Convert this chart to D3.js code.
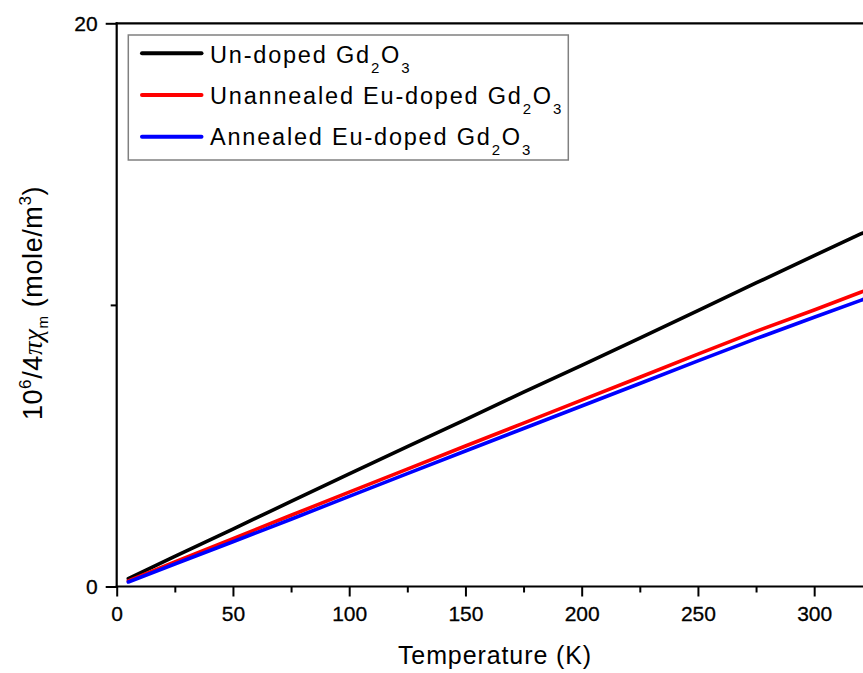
<!DOCTYPE html>
<html>
<head>
<meta charset="utf-8">
<script src="https://cdn.jsdelivr.net/npm/d3@7"></script>
<style>
  html, body { margin: 0; padding: 0; background: #fff; }
  svg { display: block; font-family: "Liberation Sans", Arial, sans-serif; }
</style>
</head>
<body>
<div id="chart"></div>
<script>
// ---- data ----
const temps      = [5, 25, 50, 75, 100, 125, 150, 175, 200, 225, 250, 275, 300, 320, 325];
const undoped    = [0.28, 1.07, 2.04, 3.02, 4.00, 4.97, 5.93, 6.90, 7.85, 8.82, 9.80, 10.78, 11.75, 12.52, 12.70];
const unannealed = [0.20, 0.87, 1.70, 2.53, 3.35, 4.17, 4.99, 5.80, 6.62, 7.43, 8.25, 9.06, 9.82, 10.45, 10.61];
const annealed   = [0.16, 0.80, 1.59, 2.39, 3.20, 4.01, 4.81, 5.61, 6.41, 7.21, 8.01, 8.80, 9.56, 10.16, 10.32];

const seriesNames = ["Un-doped Gd", "Unannealed Eu-doped Gd", "Annealed Eu-doped Gd"];
const seriesColors = ["#000000", "#ff0000", "#0000ff"];
const seriesValues = [undoped, unannealed, annealed];

const xMajorTicks = [0, 50, 100, 150, 200, 250, 300];
const xMinorTicks = [25, 75, 125, 175, 225, 275];
const yMajorTicks = [0, 20];
const yMinorTicks = [10];

// ---- layout ----
const W = 863, H = 673;
const pL = 116.7, pR = 863, pT = 23.3, pB = 586.5;

const svg = d3.select("#chart").append("svg")
  .attr("width", W).attr("height", H);

const x = d3.scaleLinear().domain([0, 321]).range([pL, pR]);
const y = d3.scaleLinear().domain([0, 20]).range([pB, pT]);

svg.append("defs").append("clipPath").attr("id", "plotclip")
  .append("rect").attr("x", pL).attr("y", pT).attr("width", pR - pL).attr("height", pB - pT);

// ---- lines ----
const line = d3.line().x((d, i) => x(temps[i])).y(d => y(d));
const lg = svg.append("g").attr("clip-path", "url(#plotclip)");
seriesValues.forEach((vals, k) => {
  lg.append("path")
    .datum(vals)
    .attr("d", line)
    .attr("fill", "none")
    .attr("stroke", seriesColors[k])
    .attr("stroke-width", 3.6)
    .attr("stroke-linejoin", "round")
    .attr("stroke-linecap", "round");
});

// ---- axes ----
const axisFont = 21;
const gxMinor = svg.append("g").attr("transform", `translate(0,${pB})`)
  .call(d3.axisBottom(x).tickValues(xMinorTicks).tickSize(6).tickFormat(""));
const gx = svg.append("g").attr("transform", `translate(0,${pB})`)
  .call(d3.axisBottom(x).tickValues(xMajorTicks).tickSize(10).tickPadding(10).tickFormat(d3.format("d")));
const gyMinor = svg.append("g").attr("transform", `translate(${pL},0)`)
  .call(d3.axisLeft(y).tickValues(yMinorTicks).tickSize(6).tickFormat(""));
const gy = svg.append("g").attr("transform", `translate(${pL},0)`)
  .call(d3.axisLeft(y).tickValues(yMajorTicks).tickSize(11).tickPadding(8).tickFormat(d3.format("d")));

[gxMinor, gx, gyMinor, gy].forEach(g => {
  g.select(".domain").remove();
  g.selectAll(".tick line").attr("stroke", "#000").attr("stroke-width", 2);
  g.selectAll(".tick text").attr("fill", "#000").style("font-size", axisFont + "px")
    .style("font-family", "'Liberation Sans', Arial, sans-serif")
    .attr("stroke", "#000").attr("stroke-width", 0.3);
});

// axis lines / frame
svg.append("line").attr("x1", pL - 1).attr("x2", W).attr("y1", pB).attr("y2", pB)
  .attr("stroke", "#000").attr("stroke-width", 2.2);
svg.append("line").attr("x1", pL).attr("x2", pL).attr("y1", pT - 1).attr("y2", pB + 1)
  .attr("stroke", "#000").attr("stroke-width", 2.2);
svg.append("line").attr("x1", pL - 1).attr("x2", W).attr("y1", pT).attr("y2", pT)
  .attr("stroke", "#000").attr("stroke-width", 2.2);

// ---- axis titles ----
svg.append("text")
  .attr("x", 495).attr("y", 664)
  .attr("text-anchor", "middle")
  .style("font-size", "25px")
  .style("letter-spacing", "0.9px")
  .attr("fill", "#000")
  .text("Temperature (K)");

const yt = svg.append("text")
  .attr("transform", "translate(42,303) rotate(-90)")
  .attr("text-anchor", "middle")
  .style("font-size", "27px")
  .style("letter-spacing", "0.6px")
  .attr("fill", "#000");
yt.append("tspan").text("10");
yt.append("tspan").attr("dy", -11).style("font-size", "17px").text("6");
yt.append("tspan").attr("dy", 11).text("/4");
yt.append("tspan").style("font-style", "italic").style("font-family", "'Liberation Serif', serif").text("π");
yt.append("tspan").style("font-style", "italic").style("font-family", "'Liberation Serif', serif").text("χ");
yt.append("tspan").attr("dy", 6).style("font-size", "15px").text("m");
yt.append("tspan").attr("dy", -6).text("\u00a0(mole/m");
yt.append("tspan").attr("dy", -11).style("font-size", "17px").text("3");
yt.append("tspan").attr("dy", 11).text(")");

// ---- legend ----
const legend = svg.append("g");
legend.append("rect")
  .attr("x", 128.3).attr("y", 35).attr("width", 440).attr("height", 125)
  .attr("fill", "#fff").attr("stroke", "#808080").attr("stroke-width", 1.5);

const rowLineY = [53.3, 95, 136.7];
const rowBase = [62.7, 103.5, 145];
seriesNames.forEach((name, k) => {
  legend.append("line")
    .attr("x1", 142).attr("x2", 201.5)
    .attr("y1", rowLineY[k]).attr("y2", rowLineY[k])
    .attr("stroke", seriesColors[k]).attr("stroke-width", 4)
    .attr("stroke-linecap", "round");
  const t = legend.append("text")
    .attr("x", 210).attr("y", rowBase[k])
    .style("font-size", "23.5px")
    .style("letter-spacing", "1.8px")
    .attr("fill", "#000");
  t.append("tspan").text(name);
  t.append("tspan").attr("dy", 10).style("font-size", "15px").text("2");
  t.append("tspan").attr("dy", -10).text("O");
  t.append("tspan").attr("dy", 10).style("font-size", "15px").text("3");
});
</script>
</body>
</html>
